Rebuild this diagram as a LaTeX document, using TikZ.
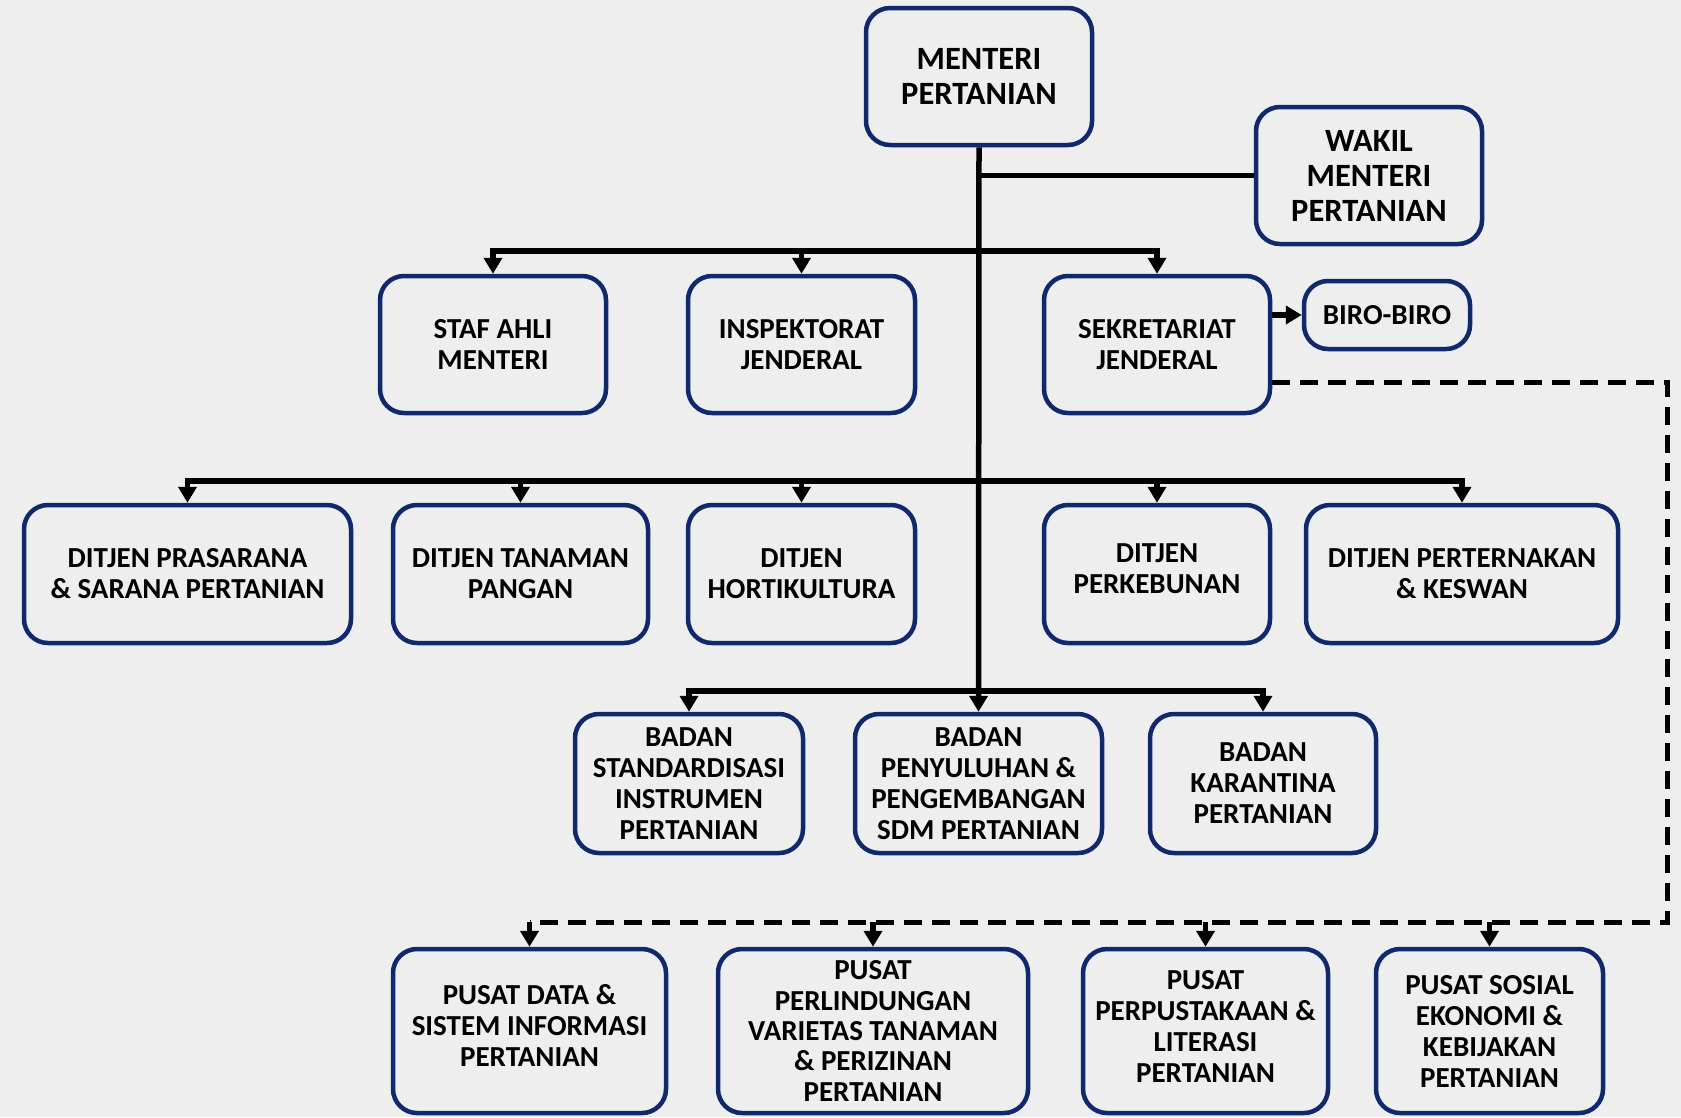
\documentclass[tikz,border=0pt]{standalone}
\usepackage{fontspec}
\setmainfont{Carlito}
\usetikzlibrary{arrows.meta,calc}
\definecolor{navy}{RGB}{15,40,110}
\definecolor{paper}{RGB}{238,238,238}
\newcommand\orgbox[7][]{\node[orgnode,minimum width=#5,minimum height=#6,#1] (#2) at (#3,#4) {#7};}
\begin{document}
\begin{tikzpicture}[x=1pt,y=-1pt,
  orgnode/.style={draw=navy, line width=4.5pt, rounded corners=24pt, align=center,
    font=\fontsize{29}{31}\selectfont\bfseries, inner sep=0pt},
  bigtext/.style={font=\fontsize{32.5}{35}\selectfont\bfseries},
  tighttext/.style={font=\fontsize{29}{30.3}\selectfont\bfseries},
  conn/.style={line width=5.5pt, black},
  busline/.style={conn, line cap=rect},
  arr/.style={conn, -{Triangle[width=18pt,length=16pt]}},
  dashline/.style={line width=5pt, black, dash pattern=on 18pt off 10pt}]
\useasboundingbox (0,0) rectangle (1681,1117);
\fill[paper] (0,0) rectangle (1681,1117);

% top
\orgbox[bigtext]{menteri}{979}{76.5}{226}{137}{MENTERI\\PERTANIAN}
\orgbox[bigtext]{wakil}{1369}{175.5}{226}{137}{WAKIL\\MENTERI\\PERTANIAN}
% row 1
\orgbox{staf}{493}{344.5}{226}{137}{STAF AHLI\\MENTERI}
\orgbox{insp}{801.5}{344.5}{227}{137}{INSPEKTORAT\\JENDERAL}
\orgbox{sekjen}{1157}{344.5}{226}{137}{SEKRETARIAT\\JENDERAL}
\orgbox{biro}{1387}{315}{166}{68}{BIRO-BIRO}
% row 2
\orgbox{dsarana}{187.5}{574}{327}{138}{DITJEN PRASARANA\\\& SARANA PERTANIAN}
\orgbox{dpangan}{520.5}{574}{255}{138}{DITJEN TANAMAN\\PANGAN}
\orgbox{dhorti}{801.5}{574}{227}{138}{DITJEN\\HORTIKULTURA}
\orgbox{dkebun}{1157}{574}{226}{138}{DITJEN\\PERKEBUNAN\\[-21pt]\mbox{}}
\orgbox{dternak}{1462}{574}{312}{138}{DITJEN PERTERNAKAN\\\& KESWAN}
% row 3
\orgbox{bsi}{689}{783.5}{228}{139}{BADAN\\STANDARDISASI\\INSTRUMEN\\PERTANIAN}
\orgbox{bppsdm}{978.5}{783.5}{247}{139}{BADAN\\PENYULUHAN \&\\PENGEMBANGAN\\SDM PERTANIAN}
\orgbox{bkarantina}{1263}{783.5}{226}{139}{BADAN\\KARANTINA\\PERTANIAN}
% row 4
\orgbox{pdata}{529.5}{1031}{273}{164}{PUSAT DATA \&\\SISTEM INFORMASI\\PERTANIAN\\[-20pt]\mbox{}}
\orgbox[tighttext]{pvarietas}{873}{1031}{310}{164}{PUSAT\\PERLINDUNGAN\\VARIETAS TANAMAN\\\& PERIZINAN\\PERTANIAN}
\orgbox{ppustaka}{1205.5}{1031}{245}{164}{PUSAT\\PERPUSTAKAAN \&\\LITERASI\\PERTANIAN\\[-22pt]\mbox{}}
\orgbox{psosial}{1489.5}{1031}{227}{164}{PUSAT SOSIAL\\EKONOMI \&\\KEBIJAKAN\\PERTANIAN}

% bus coordinates
\coordinate (bus1) at (979,251);
\coordinate (bus2) at (979,481);
\coordinate (bus3) at (979,691);
\coordinate (busd) at (979,922);

% trunk
\draw[arr] (menteri.south) -- (bppsdm.north);
\draw[conn] (menteri.south |- wakil.west) -- (wakil.west);

% bus 1
\draw[busline] (bus1 -| staf.north) -- (bus1 -| sekjen.north);
\foreach \n in {staf,insp,sekjen} \draw[arr] (bus1 -| \n.north) -- (\n.north);
% bus 2
\draw[busline] (bus2 -| dsarana.north) -- (bus2 -| dternak.north);
\foreach \n in {dsarana,dpangan,dhorti,dkebun,dternak} \draw[arr] (bus2 -| \n.north) -- (\n.north);
% bus 3
\draw[busline] (bus3 -| bsi.north) -- (bus3 -| bkarantina.north);
\foreach \n in {bsi,bkarantina} \draw[arr] (bus3 -| \n.north) -- (\n.north);

% biro
\draw[arr] (sekjen.east |- biro.west) -- (biro.west);

% dashed
\coordinate (dcorner) at (1667,922);
\draw[dashline] (sekjen.east |- 0,382) -| (dcorner) -- (busd -| pdata.north);
\foreach \n in {pdata,pvarietas,ppustaka,psosial} \draw[arr] (busd -| \n.north) -- (\n.north);
\end{tikzpicture}
\end{document}
